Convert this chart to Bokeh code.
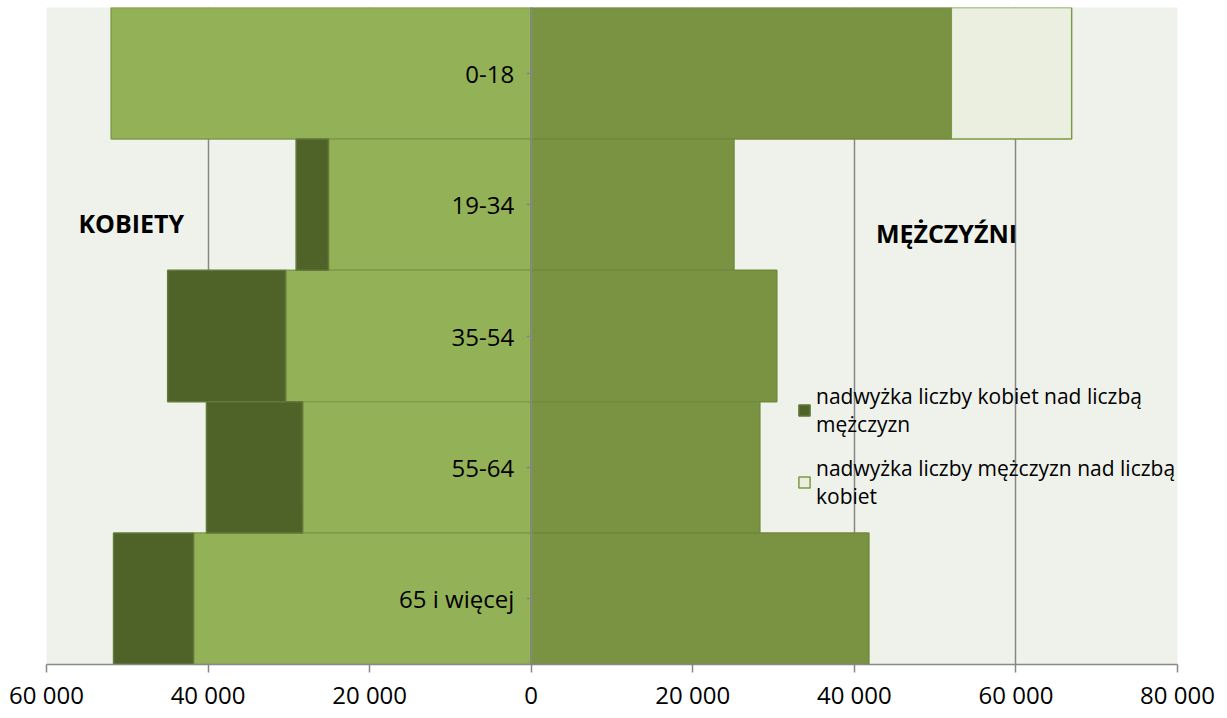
from bokeh.plotting import figure
from bokeh.models import FactorRange, Range1d, FixedTicker, Legend, LegendItem, ColumnDataSource
from bokeh.core.properties import value
from bokeh.embed import file_html
from bokeh.resources import INLINE

# ---- data ----
categories = ["0-18", "19-34", "35-54", "55-64", "65 i więcej"]
women = [52000, 29100, 45000, 40200, 51700]
men = [66900, 25100, 30400, 28300, 41800]
tick_values = [-60000, -40000, -20000, 0, 20000, 40000, 60000, 80000]
tick_labels = ["60 000", "40 000", "20 000", "0", "20 000", "40 000", "60 000", "80 000"]
legend_labels = ["nadwyżka liczby kobiet nad liczbą\nmężczyzn",
                 "nadwyżka liczby mężczyzn nad liczbą\nkobiet"]
side_labels = ["KOBIETY", "MĘŻCZYŹNI"]
side_x = [-49500, 51400]
side_cat = ["19-34", "19-34"]

FONT = "Open Sans"
common = [min(w, m) for w, m in zip(women, men)]

src_wc = ColumnDataSource(dict(cat=categories, left=[-c for c in common], right=[0] * len(common)))
src_mc = ColumnDataSource(dict(cat=categories, left=[0] * len(common), right=common))
ws = [(c, -w, -cm) for c, w, cm in zip(categories, women, common) if w > cm]
ms = [(c, cm, m) for c, m, cm in zip(categories, men, common) if m > cm]
src_ws = ColumnDataSource(dict(cat=[a[0] for a in ws], left=[a[1] for a in ws], right=[a[2] for a in ws]))
src_ms = ColumnDataSource(dict(cat=[a[0] for a in ms], left=[a[1] for a in ms], right=[a[2] for a in ms]))

p = figure(width=1223, height=713, output_backend="svg", toolbar_location=None,
           x_range=Range1d(tick_values[0], tick_values[-1]),
           y_range=FactorRange(*reversed(categories), range_padding=0),
           min_border_left=46, min_border_right=46, min_border_top=7, min_border_bottom=48)
p.outline_line_color = None
p.background_fill_color = "#EFF2EA"
p.border_fill_color = "white"

grid_col = "#878787"
p.xgrid.ticker = FixedTicker(ticks=tick_values)
p.xgrid.grid_line_color = grid_col
p.xgrid.grid_line_width = 1.5
p.ygrid.visible = False

bar_kw = dict(y="cat", left="left", right="right", height=1.0, line_width=1.5)
p.hbar(source=src_wc, fill_color="#93B157", line_color="#7F9C48", **bar_kw)
r_ws = p.hbar(source=src_ws, fill_color="#4F6228", line_color="#62793A", **bar_kw)
p.hbar(source=src_mc, fill_color="#7A9343", line_color="#71893D", **bar_kw)
r_ms = p.hbar(source=src_ms, fill_color="#EAEFDF", line_color="#7A9A45", **bar_kw)

# x axis
xa = p.xaxis[0]
xa.ticker = FixedTicker(ticks=tick_values)
xa.major_label_overrides = {v: t for v, t in zip(tick_values, tick_labels)}
xa.axis_line_color = grid_col
xa.axis_line_width = 1.5
xa.major_tick_line_color = grid_col
xa.major_tick_line_width = 1.5
xa.major_tick_out = 8
xa.major_tick_in = 0
xa.minor_tick_line_color = None
xa.major_label_text_font = FONT
xa.major_label_text_font_size = "24px"
xa.major_label_text_color = "black"
xa.major_label_standoff = 5

# y axis at x = 0
ya = p.yaxis[0]
ya.fixed_location = 0
ya.axis_line_color = grid_col
ya.axis_line_width = 1.5
ya.major_tick_line_color = grid_col
ya.major_tick_line_width = 1.5
ya.major_tick_out = 5
ya.major_tick_in = 0
ya.minor_tick_line_color = None
ya.major_label_text_font = FONT
ya.major_label_text_font_size = "24px"
ya.major_label_text_color = "black"
ya.major_label_standoff = 12

p.text(x=side_x, y=side_cat, text=side_labels, y_offset=[18, 28],
       text_align="center", text_baseline="middle", text_font=value(FONT),
       text_font_style="bold", text_font_size="25px", text_color="black")

legend = Legend(items=[LegendItem(label=legend_labels[0], renderers=[r_ws]),
                       LegendItem(label=legend_labels[1], renderers=[r_ms])],
                location=(751, 154), orientation="vertical")
legend.background_fill_alpha = 0
legend.border_line_alpha = 0
legend.padding = 0
legend.margin = 0
legend.spacing = 16
legend.glyph_width = 14
legend.glyph_height = 14
legend.label_standoff = 5
legend.label_text_font = FONT
legend.label_text_font_size = "21px"
legend.label_text_color = "black"
p.add_layout(legend)

open("out.html", "w").write(file_html(p, INLINE))
